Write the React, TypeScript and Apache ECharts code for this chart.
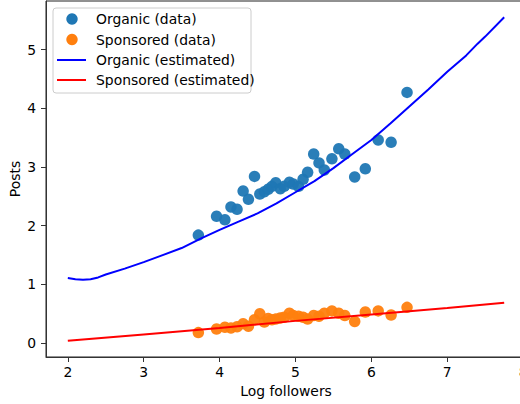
import React, { useEffect, useRef } from "react";
import * as echarts from "echarts";

// Log followers (shared x for both data series)
const logFollowers = [3.72, 3.96, 4.07, 4.15, 4.23, 4.31, 4.38, 4.46, 4.53, 4.59, 4.64, 4.69, 4.74, 4.8, 4.85, 4.92, 4.97, 5.04, 5.1, 5.16, 5.24, 5.31, 5.38, 5.48, 5.57, 5.65, 5.78, 5.92, 6.09, 6.26, 6.47];
const organicPosts = [1.84, 2.16, 2.1, 2.32, 2.28, 2.59, 2.45, 2.84, 2.54, 2.58, 2.62, 2.67, 2.73, 2.63, 2.67, 2.74, 2.71, 2.67, 2.79, 2.91, 3.22, 3.07, 2.95, 3.14, 3.31, 3.22, 2.83, 2.97, 3.46, 3.42, 4.27];
const sponsoredPosts = [0.18, 0.24, 0.27, 0.26, 0.28, 0.33, 0.29, 0.4, 0.5, 0.36, 0.42, 0.4, 0.41, 0.43, 0.44, 0.51, 0.47, 0.46, 0.44, 0.41, 0.47, 0.46, 0.51, 0.55, 0.51, 0.47, 0.37, 0.53, 0.55, 0.48, 0.61];

// Estimated curves
const organicEstX = [2.0, 2.1, 2.2, 2.3, 2.4, 2.5, 2.75, 3.0, 3.25, 3.5, 3.75, 4.0, 4.25, 4.5, 4.75, 5.0, 5.25, 5.5, 5.75, 6.0, 6.25, 6.5, 6.75, 7.0, 7.25, 7.4, 7.5, 7.75];
const organicEstY = [1.11, 1.09, 1.08, 1.09, 1.12, 1.17, 1.27, 1.38, 1.5, 1.62, 1.78, 1.93, 2.07, 2.21, 2.38, 2.57, 2.76, 2.98, 3.22, 3.46, 3.74, 4.03, 4.32, 4.62, 4.9, 5.1, 5.22, 5.55];
const sponsoredEstX = [2.0, 3.0, 4.0, 5.0, 6.0, 7.0, 7.75];
const sponsoredEstY = [0.04, 0.15, 0.26, 0.38, 0.49, 0.6, 0.69];

const xTicks = [2, 3, 4, 5, 6, 7, 8];
const yTicks = [0, 1, 2, 3, 4, 5];

const FONT = "DejaVu Sans";

export default function App() {
  const ref = useRef<HTMLDivElement>(null);
  useEffect(() => {
    document.body.style.margin = "0";
    const chart = echarts.init(ref.current!, null, { renderer: "svg" });
    const zip = (xs: number[], ys: number[]) => xs.map((x, i) => [x, ys[i]]);
    const axisCommon = {
      type: "value" as const,
      splitLine: { show: false },
      nameMoveOverlap: false,
      axisLine: { show: true, onZero: false, lineStyle: { color: "#333", width: 1 } },
      axisTick: { show: true, length: 5, lineStyle: { color: "#333", width: 1 } },
      nameTextStyle: { color: "#000", fontSize: 13.9, fontFamily: FONT },
    };
    chart.setOption({
      animation: false,
      grid: {
        left: 46, top: 1, width: 480, height: 356,
        containLabel: false, outerBoundsMode: "none",
        show: true, borderColor: "#222", borderWidth: 1,
      },
      xAxis: {
        ...axisCommon,
        min: 1.7125,
        max: 8.0375,
        name: "Log followers",
        nameLocation: "middle",
        nameGap: 27,
        axisTick: { ...axisCommon.axisTick, customValues: xTicks },
        axisLabel: { customValues: xTicks, color: "#000", fontSize: 13.9, fontFamily: FONT, margin: 8 },
      },
      yAxis: {
        ...axisCommon,
        min: -0.235,
        max: 5.826,
        name: "Posts",
        nameLocation: "middle",
        nameGap: 24,
        axisTick: { ...axisCommon.axisTick, customValues: yTicks },
        axisLabel: { customValues: yTicks, color: "#000", fontSize: 13.9, fontFamily: FONT, margin: 10 },
      },
      series: [
        {
          name: "Organic (data)",
          type: "scatter",
          data: zip(logFollowers, organicPosts),
          symbolSize: 11.5,
          itemStyle: { color: "#1f77b4", opacity: 0.95 },
          z: 2,
        },
        {
          name: "Sponsored (data)",
          type: "scatter",
          data: zip(logFollowers, sponsoredPosts),
          symbolSize: 11.5,
          itemStyle: { color: "#ff7f0e", opacity: 0.95 },
          z: 2,
        },
        {
          name: "Organic (estimated)",
          type: "line",
          data: zip(organicEstX, organicEstY),
          showSymbol: false,
          lineStyle: { color: "#0000ff", width: 2 },
          z: 3,
        },
        {
          name: "Sponsored (estimated)",
          type: "line",
          data: zip(sponsoredEstX, sponsoredEstY),
          showSymbol: false,
          lineStyle: { color: "#ff0000", width: 2 },
          z: 3,
        },
      ],
      graphic: [
        {
          type: "group",
          z: 100,
          children: [
            { type: "rect", shape: { x: 53, y: 8, width: 198, height: 85, r: 3 }, style: { fill: "rgba(255,255,255,0.8)", stroke: "#cccccc", lineWidth: 1 } },
            { type: "circle", shape: { cx: 72, cy: 19, r: 5.7 }, style: { fill: "#1f77b4" } },
            { type: "circle", shape: { cx: 72, cy: 39.5, r: 5.7 }, style: { fill: "#ff7f0e" } },
            { type: "line", shape: { x1: 57, y1: 60, x2: 86, y2: 60 }, style: { stroke: "#0000ff", lineWidth: 2 } },
            { type: "line", shape: { x1: 57, y1: 80, x2: 86, y2: 80 }, style: { stroke: "#ff0000", lineWidth: 2 } },
            { type: "text", x: 96, y: 19, style: { text: "Organic (data)", fill: "#000", fontSize: 13.9, fontFamily: FONT, verticalAlign: "middle" } },
            { type: "text", x: 96, y: 39.5, style: { text: "Sponsored (data)", fill: "#000", fontSize: 13.9, fontFamily: FONT, verticalAlign: "middle" } },
            { type: "text", x: 96, y: 60, style: { text: "Organic (estimated)", fill: "#000", fontSize: 13.9, fontFamily: FONT, verticalAlign: "middle" } },
            { type: "text", x: 96, y: 80, style: { text: "Sponsored (estimated)", fill: "#000", fontSize: 13.9, fontFamily: FONT, verticalAlign: "middle" } },
          ],
        },
      ],
    });
    return () => chart.dispose();
  }, []);
  return <div ref={ref} style={{ width: 520, height: 404 }} />;
}
